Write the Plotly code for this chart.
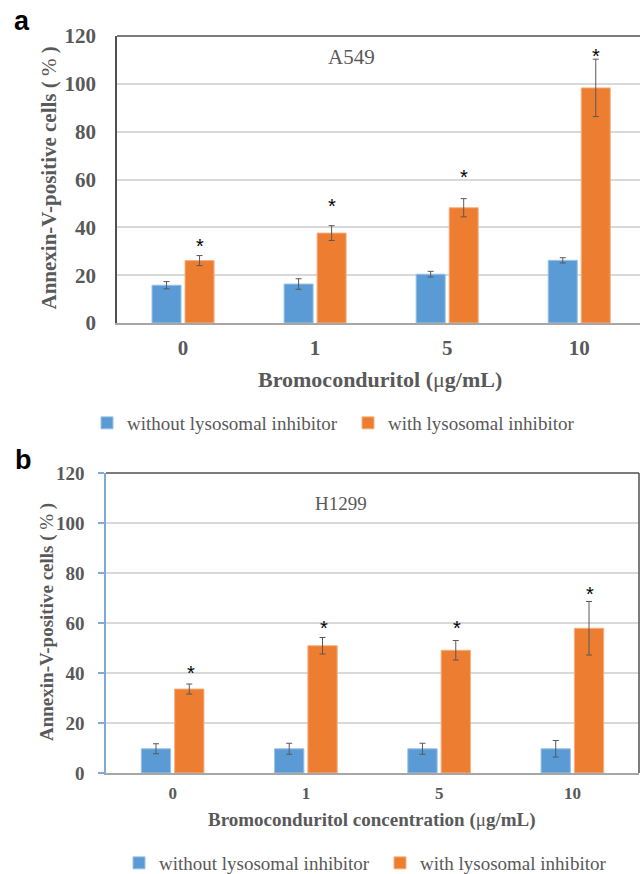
import plotly.graph_objects as go

W, H = 640, 874

categories = ["0", "1", "5", "10"]

# Panel a: A549
a_without = [15.8, 16.3, 20.4, 26.2]
a_without_err = [1.5, 2.2, 1.2, 1.1]
a_with = [26.1, 37.6, 48.2, 98.3]
a_with_err = [2.1, 3.1, 3.8, 12.0]
a_star = [33.8, 50.5, 62.9, 113.5]

# Panel b: H1299
b_without = [9.7, 9.7, 9.7, 9.7]
b_without_err = [2.0, 2.2, 2.2, 3.3]
b_with = [33.6, 50.9, 49.1, 57.9]
b_with_err = [2.0, 3.3, 3.9, 10.7]
b_star = [41.6, 59.7, 59.7, 73.3]

y_ticks = [0, 20, 40, 60, 80, 100, 120]
series_names = ["without lysosomal inhibitor", "with lysosomal inhibitor"]

BLUE = "#5B9BD5"
ORANGE = "#ED7D31"
GRAY = "#595959"
SERIF = "Liberation Serif, Times New Roman, serif"
SANS = "Liberation Sans, Arial, sans-serif"


def px(x):
    return x / W


def py(y):
    return 1 - y / H


fig = go.Figure()


def add_bars(xa, ya, vals, errs, name, color, edge, legend):
    fig.add_trace(go.Bar(
        x=categories, y=vals, name=name, xaxis=xa, yaxis=ya,
        marker=dict(color=color, line=dict(color=edge, width=1)),
        error_y=dict(type="data", array=errs, visible=True,
                     color=GRAY, thickness=1, width=3),
        legend=legend, showlegend=True,
    ))


add_bars("x", "y", a_without, a_without_err, series_names[0], BLUE, "#9DC3E6", "legend")
add_bars("x", "y", a_with, a_with_err, series_names[1], ORANGE, "#F4B183", "legend2")
add_bars("x2", "y2", b_without, b_without_err, series_names[0], BLUE, "#9DC3E6", "legend3")
add_bars("x2", "y2", b_with, b_with_err, series_names[1], ORANGE, "#F4B183", "legend4")

annotations = []
for i in range(len(categories)):
    annotations.append(dict(x=i, y=a_star[i], xref="x", yref="y", text="*",
                            showarrow=False, xshift=17, yshift=-4,
                            xanchor="center", yanchor="middle",
                            font=dict(family=SANS, size=20, color="black")))
    annotations.append(dict(x=i, y=b_star[i], xref="x2", yref="y2", text="*",
                            showarrow=False, xshift=18, yshift=-4,
                            xanchor="center", yanchor="middle",
                            font=dict(family=SANS, size=20, color="black")))


def paper_text(x, y, text, size, family=SERIF, color=GRAY, angle=0):
    return dict(x=px(x), y=py(y), xref="paper", yref="paper", text=text,
                textangle=angle, showarrow=False, xanchor="center", yanchor="middle",
                font=dict(family=family, size=size, color=color))


# Panel letters
annotations.append(paper_text(22, 21, "<b>a</b>", 27, SANS, "black"))
annotations.append(paper_text(23, 460, "<b>b</b>", 27, SANS, "black"))

# Cell line labels
annotations.append(paper_text(351, 57, "A549", 21))
annotations.append(paper_text(341, 503, "H1299", 19))

# Axis titles
annotations.append(paper_text(48, 178.5, "<b>Annexin-V-positive cells ( </b>%<b> )</b>", 21, angle=-90))
annotations.append(paper_text(46.5, 622.5, "<b>Annexin-V-positive cells ( </b>%<b> )</b>", 19, angle=-90))
annotations.append(paper_text(380, 379, "<b>Bromoconduritol (</b>μ<b>g/mL)</b>", 22))
annotations.append(paper_text(372, 820, "<b>Bromoconduritol concentration (</b>μ<b>g/mL)</b>", 19))

shapes = [
    # panel a top border
    dict(type="line", xref="paper", yref="paper", x0=px(117), x1=1, y0=py(36), y1=py(36),
         line=dict(color="#505050", width=1.5)),
    # panel b top and right border
    dict(type="line", xref="paper", yref="paper", x0=px(106), x1=px(639), y0=py(473), y1=py(473),
         line=dict(color="#505050", width=1.5)),
    dict(type="line", xref="paper", yref="paper", x0=px(639), x1=px(639), y0=py(473), y1=py(773),
         line=dict(color="#505050", width=1.5)),
]


def legend_at(text_left, center_y):
    return dict(orientation="h", x=px(text_left - 38), y=py(center_y),
                xanchor="left", yanchor="middle",
                font=dict(family=SERIF, size=19, color=GRAY),
                bgcolor="rgba(0,0,0,0)")


fig.update_layout(
    width=W, height=H,
    autosize=False,
    showlegend=True,
    margin=dict(l=0, r=0, t=0, b=0, pad=0, autoexpand=False),
    paper_bgcolor="white", plot_bgcolor="white",
    barmode="group", bargap=0.5, bargroupgap=0.12,
    font=dict(family=SERIF, color=GRAY),
    annotations=annotations, shapes=shapes,
    xaxis=dict(domain=[px(117), 1], anchor="y", range=[-0.5, 3.46], automargin=False,
               showline=True, linecolor="#A6A6A6", linewidth=2,
               ticks="", ticklabelstandoff=5,
               tickfont=dict(family=SERIF, size=21, color=GRAY, weight="bold")),
    yaxis=dict(domain=[py(323), py(36)], anchor="x", range=[0, 120], tickvals=y_ticks,
               automargin=False,
               showline=True, linecolor="#505050", linewidth=1.5,
               showgrid=True, gridcolor="#D9D9D9", gridwidth=1.5, zeroline=False,
               ticks="", ticklabelstandoff=15,
               tickfont=dict(family=SERIF, size=21, color=GRAY, weight="bold")),
    xaxis2=dict(domain=[px(106), px(639)], anchor="y2", range=[-0.5, 3.5], automargin=False,
                showline=True, linecolor="#A6A6A6", linewidth=2,
                ticks="", ticklabelstandoff=4,
                tickfont=dict(family=SERIF, size=17, color=GRAY, weight="bold")),
    yaxis2=dict(domain=[py(773), py(473)], anchor="x2", range=[0, 120], tickvals=y_ticks,
                automargin=False,
                showline=True, linecolor="#7EA9D8", linewidth=1.5,
                ticks="outside", ticklen=6, tickcolor="#7EA9D8", tickwidth=1.5,
                showgrid=True, gridcolor="#D9D9D9", gridwidth=1.5, zeroline=False,
                ticklabelstandoff=10,
                tickfont=dict(family=SERIF, size=19, color=GRAY, weight="bold")),
    legend=legend_at(125, 423),
    legend2=legend_at(386, 423),
    legend3=legend_at(157, 863),
    legend4=legend_at(418, 863),
)

fig.write_html(
    "out.html",
    config={"displayModeBar": False},
    post_script="document.body.style.margin='0';document.body.style.overflow='hidden';",
)
